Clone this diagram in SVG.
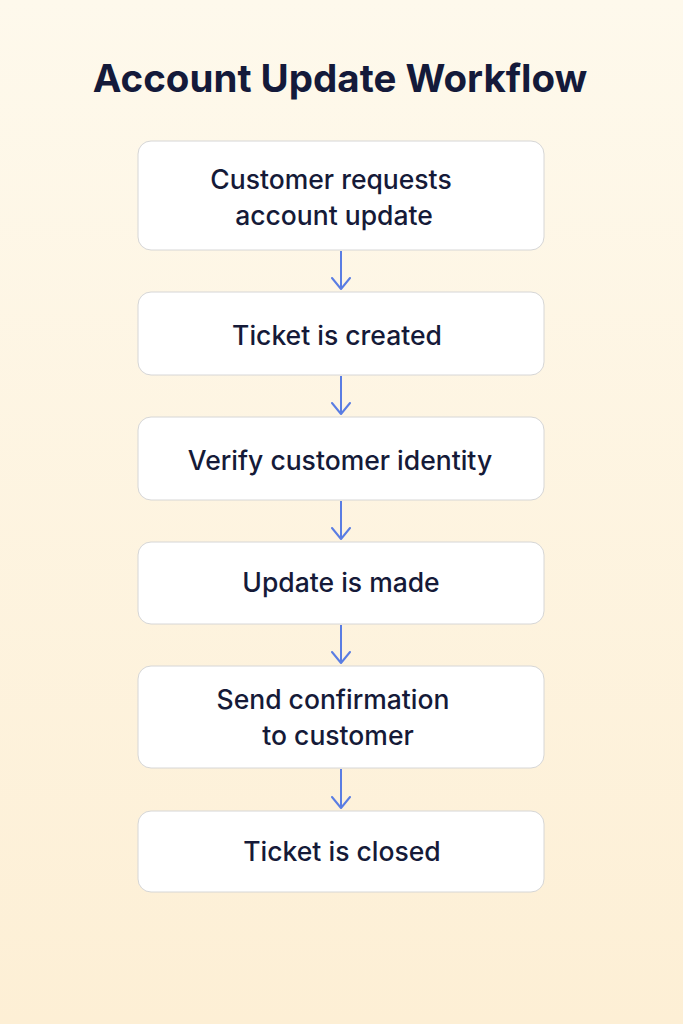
<svg xmlns="http://www.w3.org/2000/svg" width="683" height="1024" viewBox="0 0 683 1024">
<defs>
<linearGradient id="bg" x1="0" y1="0" x2="0" y2="1">
<stop offset="0" stop-color="#fef9ec"/>
<stop offset="1" stop-color="#fdefd5"/>
</linearGradient>
<marker id="arrd" viewBox="0 0 14 20" markerWidth="14" markerHeight="20" refX="12" refY="10" orient="auto" markerUnits="userSpaceOnUse">
<path d="M1 1 L12 10 L1 19" fill="none" stroke="#5a7de3" stroke-width="2" stroke-linecap="round" stroke-linejoin="round"/>
</marker>
</defs>
<style>
.box{fill:#ffffff;stroke:#d6d6d6;stroke-width:1}
.lbl{font-family:Inter,"Noto Sans","Liberation Sans",sans-serif;font-size:26.5px;font-weight:500;fill:#151a38;text-anchor:middle}
.title{font-family:Inter,"Noto Sans","Liberation Sans",sans-serif;font-size:38.5px;font-weight:700;fill:#141a3a;text-anchor:middle}
.con{stroke:#5a7de3;stroke-width:2;fill:none}
</style>
<rect x="0" y="0" width="683" height="1024" fill="url(#bg)"/>
<text class="title" x="340" y="92">Account Update Workflow</text>
<g id="connectors">
<line class="con" x1="341" y1="251" x2="341" y2="289" marker-end="url(#arrd)"/>
<line class="con" x1="341" y1="376" x2="341" y2="414" marker-end="url(#arrd)"/>
<line class="con" x1="341" y1="501" x2="341" y2="539" marker-end="url(#arrd)"/>
<line class="con" x1="341" y1="625" x2="341" y2="663" marker-end="url(#arrd)"/>
<line class="con" x1="341" y1="769" x2="341" y2="808" marker-end="url(#arrd)"/>
</g>
<g id="n1">
<rect class="box" x="138" y="141" width="406" height="109" rx="13"/>
<text class="lbl" x="331" y="189">Customer requests</text>
<text class="lbl" x="334" y="225">account update</text>
</g>
<g id="n2">
<rect class="box" x="138" y="292" width="406" height="83" rx="13"/>
<text class="lbl" x="337" y="345">Ticket is created</text>
</g>
<g id="n3">
<rect class="box" x="138" y="417" width="406" height="83" rx="13"/>
<text class="lbl" x="340" y="470">Verify customer identity</text>
</g>
<g id="n4">
<rect class="box" x="138" y="542" width="406" height="82" rx="13"/>
<text class="lbl" x="341" y="592">Update is made</text>
</g>
<g id="n5">
<rect class="box" x="138" y="666" width="406" height="102" rx="13"/>
<text class="lbl" x="333" y="709">Send confirmation</text>
<text class="lbl" x="338" y="745">to customer</text>
</g>
<g id="n6">
<rect class="box" x="138" y="811" width="406" height="81" rx="13"/>
<text class="lbl" x="342" y="861">Ticket is closed</text>
</g>
</svg>
